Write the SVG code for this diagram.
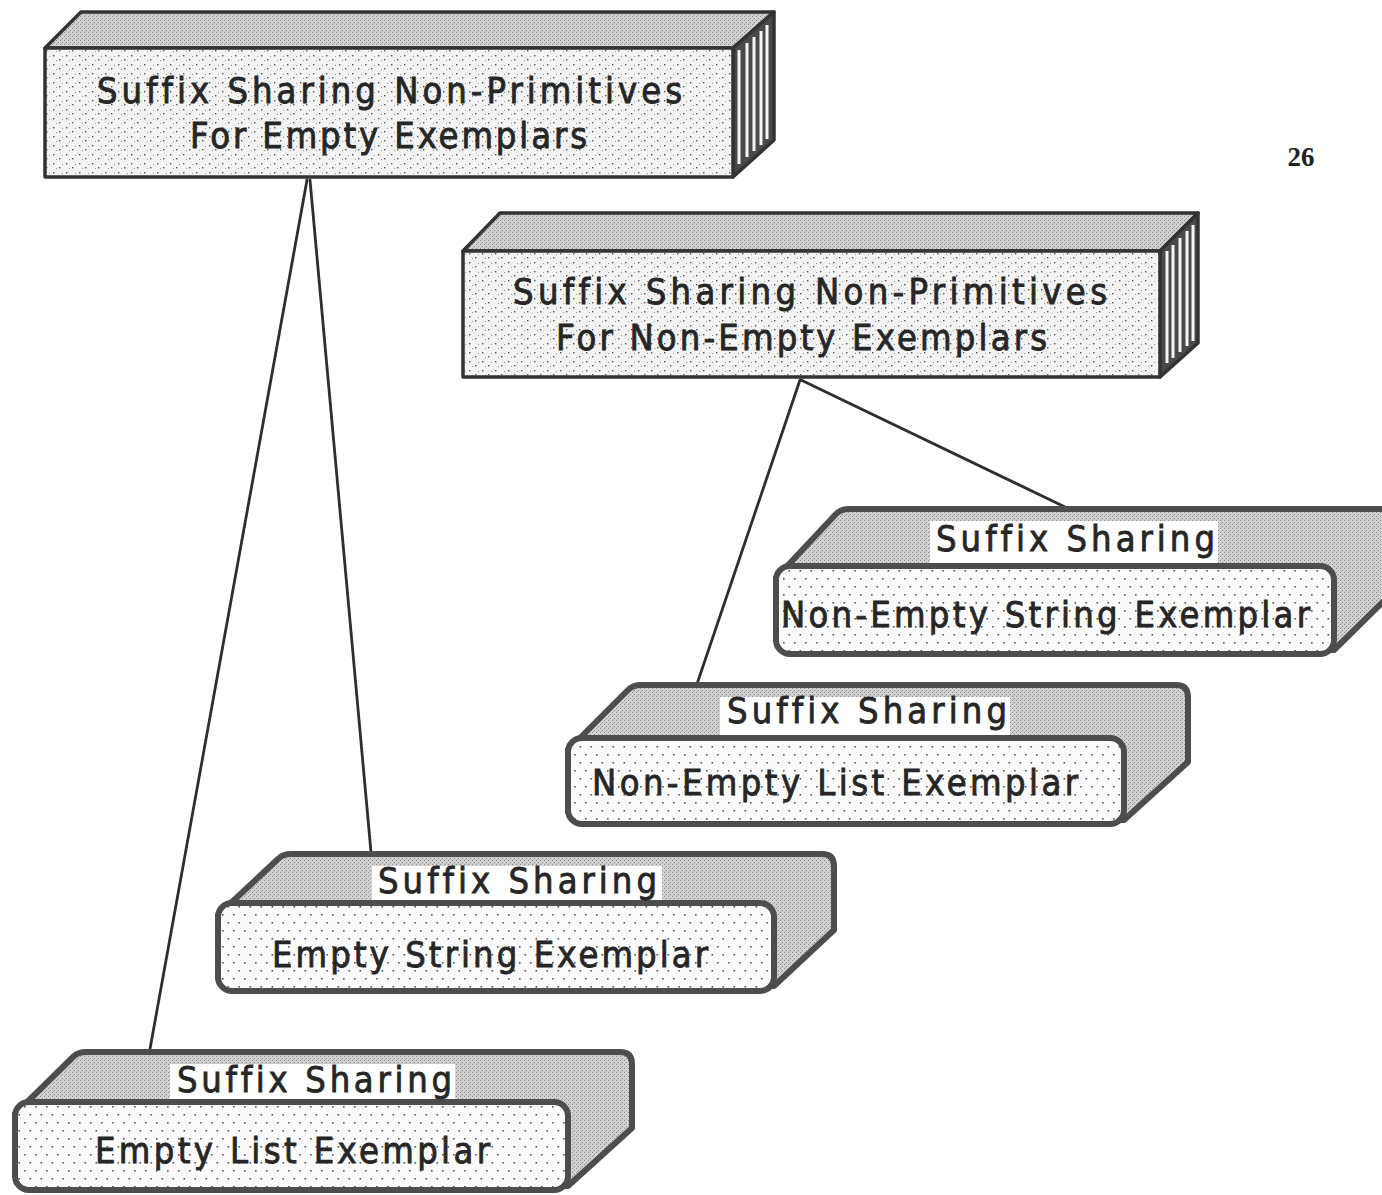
<svg xmlns="http://www.w3.org/2000/svg" width="1382" height="1195" viewBox="0 0 1382 1195">
  <defs>
    <!-- grey halftone used on the top faces -->
    <pattern id="halftone" width="4" height="4" patternUnits="userSpaceOnUse">
      <rect width="4" height="4" fill="#d2d2d2"/>
      <rect x="0" y="0" width="1" height="1" fill="#8a8a8a"/>
      <rect x="2" y="2" width="1" height="1" fill="#8a8a8a"/>
      <rect x="1" y="3" width="1" height="1" fill="#b4b4b4"/>
    </pattern>
    <!-- scattered specks on the large block faces -->
    <pattern id="speck" width="13" height="9" patternUnits="userSpaceOnUse">
      <rect width="13" height="9" fill="#f3f3f3"/>
      <rect x="1" y="1" width="1.4" height="1.4" fill="#555"/>
      <rect x="7" y="5" width="1.4" height="1.4" fill="#555"/>
      <rect x="4" y="6" width="1" height="1" fill="#999"/>
      <rect x="10" y="2" width="1" height="1" fill="#999"/>
    </pattern>
    <!-- regular dot grid on the exemplar faces -->
    <pattern id="dotgrid" width="11" height="16" patternUnits="userSpaceOnUse">
      <rect width="11" height="16" fill="#fbfbfb"/>
      <rect x="2" y="2" width="1.6" height="1.6" fill="#555"/>
      <rect x="7.5" y="10" width="1.6" height="1.6" fill="#555"/>
    </pattern>
  </defs>
  <style>
    .face { stroke: #333; stroke-width: 3.5; stroke-linejoin: round; }
    .top { fill: url(#halftone); }
    .front { fill: url(#speck); }
    .side { fill: #4a4a4a; }
    .stripes { stroke: #f4f4f4; stroke-width: 3; fill: none; }
    .shell { fill: url(#halftone); stroke: #4d4d4d; stroke-width: 6; stroke-linejoin: round; }
    .card { fill: url(#dotgrid); stroke: #4d4d4d; stroke-width: 6; }
    .tab { fill: #ffffff; }
    .label { font-family: "DejaVu Sans Condensed", "DejaVu Sans", "Liberation Sans", sans-serif; font-size: 36px; fill: #262626; stroke: #262626; stroke-width: 0.8; font-variant-ligatures: none; }
    .conn line { stroke: #2e2e2e; stroke-width: 2.8; stroke-linecap: round; }
    .pageno { font-family: "Liberation Serif", serif; font-weight: bold; font-size: 27px; fill: #222; }
  </style>

  <rect width="1382" height="1195" fill="#ffffff"/>

  <!-- connectors -->
  <g id="connectors" class="conn">
    <line x1="307" y1="180" x2="150" y2="1049"/>
    <line x1="310" y1="180" x2="371" y2="852"/>
    <line x1="800" y1="380" x2="697" y2="684"/>
    <line x1="801" y1="380" x2="1065" y2="507"/>
  </g>

  <!-- block: empty exemplars -->
  <g id="node-empty-exemplars">
    <polygon class="face top" points="45,48 81,12 774,12 733,48"/>
    <polygon class="face side" points="733,48 774,12 774,140 733,177"/>
    <path class="stripes" d="M739,50V164 M747,43V157 M754,37V151 M761,31V145 M767,25V139"/>
    <rect class="face front" x="45" y="48" width="688" height="129"/>
    <text class="label" x="97" y="103" textLength="585" lengthAdjust="spacing">Suffix Sharing Non-Primitives</text>
    <text class="label" x="190" y="148" textLength="397" lengthAdjust="spacing">For Empty Exemplars</text>
  </g>

  <!-- block: non-empty exemplars -->
  <g id="node-nonempty-exemplars">
    <polygon class="face top" points="463,251 500,213 1198,213 1160,251"/>
    <polygon class="face side" points="1160,251 1198,213 1198,343 1160,377"/>
    <path class="stripes" d="M1167,251V363 M1173,245V358 M1180,238V352 M1187,231V346 M1193,225V341"/>
    <rect class="face front" x="463" y="251" width="697" height="126"/>
    <text class="label" x="513" y="304" textLength="594" lengthAdjust="spacing">Suffix Sharing Non-Primitives</text>
    <text class="label" x="556" y="350" textLength="491" lengthAdjust="spacing">For Non-Empty Exemplars</text>
  </g>

  <!-- exemplar: non-empty string -->
  <g id="node-nonempty-string">
    <path class="shell" d="M776,640 L776,578 L836,514 Q841,509 849,509 L1395,509 L1395,590 L1334,650 Z"/>
    <rect class="tab" x="930" y="521" width="288" height="44"/>
    <rect class="card" x="776" y="566" width="558" height="88" rx="14"/>
    <text class="label" x="936" y="551" textLength="279" lengthAdjust="spacing">Suffix Sharing</text>
    <text class="label" x="781" y="627" textLength="529" lengthAdjust="spacing">Non-Empty String Exemplar</text>
  </g>

  <!-- exemplar: non-empty list -->
  <g id="node-nonempty-list">
    <path class="shell" d="M568,812 L568,750 L628,690 Q633,685 641,685 L1176,685 Q1188,685 1188,697 L1188,762 L1124,820 Z"/>
    <rect class="tab" x="720" y="697" width="290" height="40"/>
    <rect class="card" x="568" y="738" width="556" height="86" rx="14"/>
    <text class="label" x="727" y="723" textLength="280" lengthAdjust="spacing">Suffix Sharing</text>
    <text class="label" x="592" y="795" textLength="486" lengthAdjust="spacing">Non-Empty List Exemplar</text>
  </g>

  <!-- exemplar: empty string -->
  <g id="node-empty-string">
    <path class="shell" d="M218,978 L218,915 L278,859 Q283,854 291,854 L822,854 Q834,854 834,866 L834,930 L774,986 Z"/>
    <rect class="tab" x="372" y="866" width="290" height="37"/>
    <rect class="card" x="218" y="903" width="556" height="88" rx="14"/>
    <text class="label" x="378" y="893" textLength="279" lengthAdjust="spacing">Suffix Sharing</text>
    <text class="label" x="272" y="967" textLength="436" lengthAdjust="spacing">Empty String Exemplar</text>
  </g>

  <!-- exemplar: empty list -->
  <g id="node-empty-list">
    <path class="shell" d="M15,1176 L15,1114 L73,1057 Q78,1052 86,1052 L620,1052 Q632,1052 632,1064 L632,1128 L568,1186 Z"/>
    <rect class="tab" x="170" y="1064" width="285" height="38"/>
    <rect class="card" x="15" y="1102" width="553" height="88" rx="14"/>
    <text class="label" x="177" y="1092" textLength="275" lengthAdjust="spacing">Suffix Sharing</text>
    <text class="label" x="95" y="1163" textLength="395" lengthAdjust="spacing">Empty List Exemplar</text>
  </g>

  <text class="pageno" x="1301" y="166" text-anchor="middle">26</text>
</svg>
